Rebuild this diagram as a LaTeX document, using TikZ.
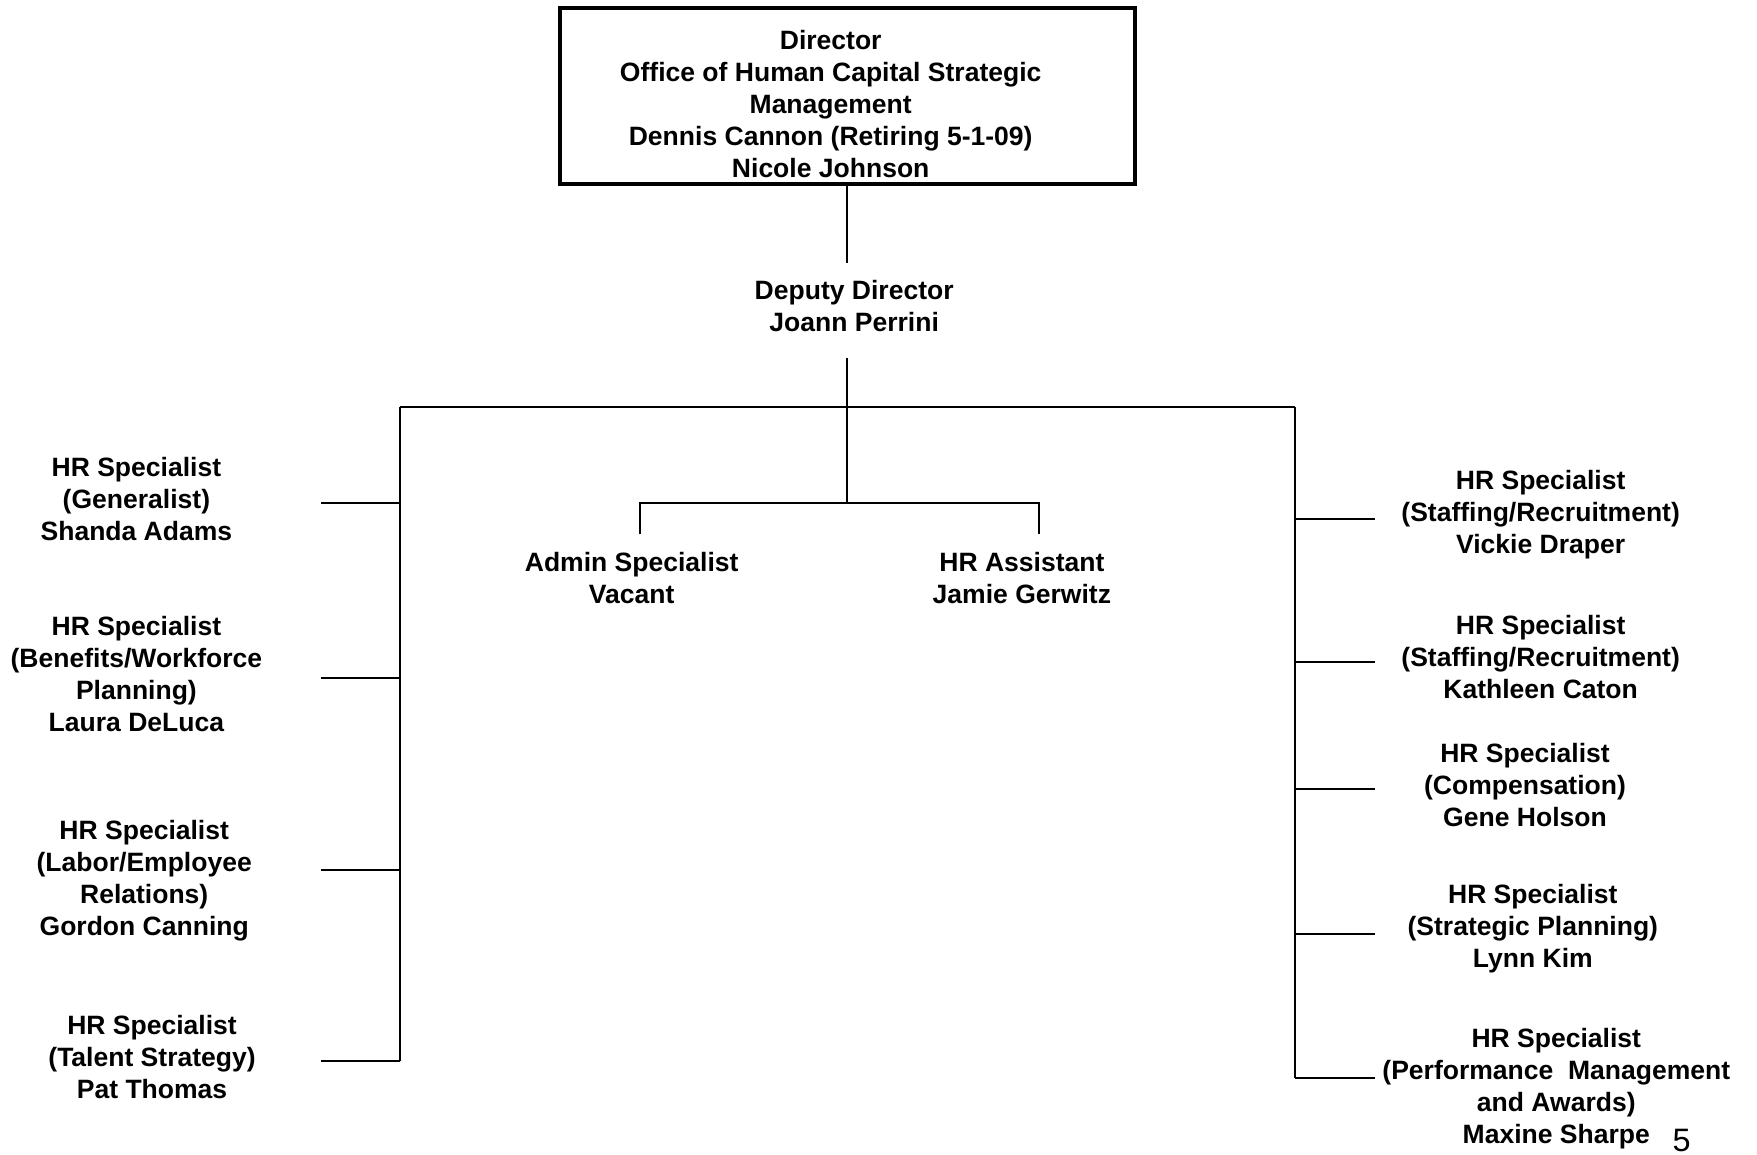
\documentclass[tikz,border=0pt]{standalone}
\usepackage{fontspec}
\setmainfont{Liberation Sans}

\tikzset{
    person/.style={font=\bfseries\fontsize{13.5}{16.3}\selectfont, align=center, inner sep=0pt},
    headbox/.style={draw, line width=2pt, minimum width=10.3cm, minimum height=3.14cm, inner sep=0pt},
    conn/.style={line width=1pt}
}

\begin{document}
\begin{tikzpicture}[x=0.02cm, y=-0.02cm]
        \useasboundingbox (0,0) rectangle (1571.5,1033);

        % director and deputy
        \node[headbox] (dirbox) at (758,86) {};
        \node[person] (director) at (743,93)
            {Director\\Office of Human Capital Strategic\\Management\\Dennis Cannon (Retiring 5-1-09)\\Nicole Johnson};
        \node[person] (deputy) at (764,274) {Deputy Director\\Joann Perrini};

        % direct staff
        \node[person] (admin) at (565,517) {Admin Specialist\\Vacant};
        \node[person] (assistant) at (914,517) {HR Assistant\\Jamie Gerwitz};

        % left column
        \node[person] (adams) at (122,446) {HR Specialist\\(Generalist)\\Shanda Adams};
        \node[person] (deluca) at (122,603) {HR Specialist\\(Benefits/Workforce\\Planning)\\Laura DeLuca};
        \node[person] (canning) at (129,788) {HR Specialist\\(Labor/Employee\\Relations)\\Gordon Canning};
        \node[person] (thomas) at (136,945) {HR Specialist\\(Talent Strategy)\\Pat Thomas};

        % right column
        \node[person] (draper) at (1378,460) {HR Specialist\\(Staffing/Recruitment)\\Vickie Draper};
        \node[person] (caton) at (1378,588) {HR Specialist\\(Staffing/Recruitment)\\Kathleen Caton};
        \node[person] (holson) at (1364,702) {HR Specialist\\(Compensation)\\Gene Holson};
        \node[person] (kim) at (1371,831) {HR Specialist\\(Strategic Planning)\\Lynn Kim};
        \node[person] (sharpe) at (1392,974) {HR Specialist\\(Performance\ \ Management\\and Awards)\\Maxine Sharpe};

        \node[font=\fontsize{16.5}{18}\selectfont, anchor=base, inner sep=0pt] (pagenum) at (1504,1030) {5};

        % junction points
        \coordinate (dirlow) at (758,235);
        \coordinate (deplow) at (758,320);
        \coordinate (hub) at (758,364);
        \coordinate (midhub) at (758,450);
        \coordinate (ltop) at (358,364);
        \coordinate (rtop) at (1158,364);
        \coordinate (lbot) at (358,949);
        \coordinate (rbot) at (1158,964);
        \coordinate (adminup) at (572,450);
        \coordinate (admintop) at (572,478);
        \coordinate (asstup) at (929,450);
        \coordinate (assttop) at (929,478);

        \draw[conn] (dirbox.south -| dirlow) -- (dirlow);
        \draw[conn] (deplow) -- (midhub);
        \draw[conn] (ltop) -- (rtop);
        \draw[conn] (ltop) -- (lbot);
        \draw[conn] (rtop) -- (rbot);
        \draw[conn] (admintop) -- (adminup) -- (asstup) -- (assttop);

        \foreach \y [count=\i] in {450,606,778,949} {
            \coordinate (lj\i) at (358,\y);
            \coordinate (le\i) at (287,\y);
            \draw[conn] (lj\i) -- (le\i);
        }
        \foreach \y [count=\i] in {464,592,706,835,964} {
            \coordinate (rj\i) at (1158,\y);
            \coordinate (re\i) at (1230,\y);
            \draw[conn] (rj\i) -- (re\i);
        }
\end{tikzpicture}
\end{document}
